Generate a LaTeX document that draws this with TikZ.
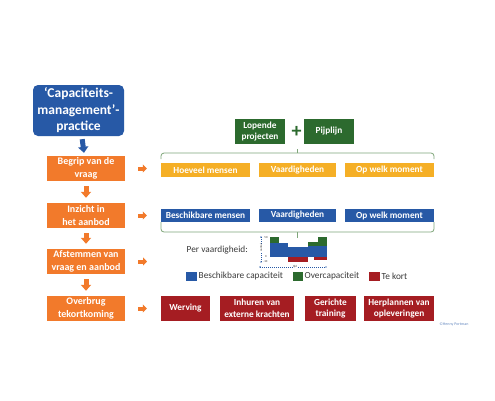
\documentclass[tikz,border=0pt]{standalone}
\usepackage{fontspec}
\setmainfont{Carlito}
\usetikzlibrary{arrows.meta}
\definecolor{titleblue}{HTML}{2759A6}
\definecolor{steporange}{HTML}{F27A2B}
\definecolor{askyellow}{HTML}{F5AF26}
\definecolor{darkgreen}{HTML}{2C6A2E}
\definecolor{bracegreen}{HTML}{7FA67A}
\definecolor{fixred}{HTML}{A51D22}
\definecolor{textgray}{HTML}{3A3A3A}
\begin{document}
\begin{tikzpicture}[x=1pt,y=-1pt,
	box/.style={inner sep=0pt, align=center, text=white, font=\bfseries\fontsize{9.3}{11.5}\selectfont},
	stepbox/.style={box, fill=steporange, minimum width=78, minimum height=25, font=\bfseries\fontsize{10}{12.5}\selectfont},
	askbox/.style={box, fill=askyellow, minimum height=14},
	havebox/.style={box, fill=titleblue, minimum height=13},
	pipebox/.style={box, fill=darkgreen, minimum width=50, minimum height=25},
	fixbox/.style={box, fill=fixred, minimum height=25},
	downarrow/.style={line width=5pt, -{Triangle[width=10pt,length=6pt]}},
	rightarrow/.style={steporange, line width=4pt, -{Triangle[width=8pt,length=4pt]}, shorten <=13pt},
	bracket/.style={bracegreen, line width=0.8pt, rounded corners=3pt},
	legendtext/.style={text=textgray, font=\fontsize{9.3}{11}\selectfont, anchor=west, inner sep=0pt},
	tiny/.style={text=textgray, font=\fontsize{3}{3}\selectfont, inner sep=0.3pt}]
	\useasboundingbox (0,0) rectangle (495,400);
	\fill[white] (0,0) rectangle (495,400);
	% Steps
	\node[box, fill=titleblue, rounded corners=5pt, minimum width=91, minimum height=51,
		font=\bfseries\fontsize{13.5}{16.5}\selectfont] (title) at (78.5,110.5) {‘Capaciteits-\\management’-\\practice};
	\node[stepbox] (vraag) at (86,168.5) {Begrip van de\\vraag};
	\node[stepbox] (aanbod) at (86,215.5) {Inzicht in\\het aanbod};
	\node[stepbox] (afstem) at (86,261.5) {Afstemmen van\\vraag en aanbod};
	\node[stepbox] (overbrug) at (86,308.5) {Overbrug\\tekortkoming};
	%Arrows down
	\draw[downarrow, titleblue, shorten <=3pt, shorten >=3pt] (title) -- (vraag);
	\draw[downarrow, steporange, shorten <=5pt, shorten >=5pt] (vraag) -- (aanbod);
	\draw[downarrow, steporange, shorten <=5pt, shorten >=5pt] (aanbod) -- (afstem);
	\draw[downarrow, steporange, shorten <=5pt, shorten >=5pt] (afstem) -- (overbrug);
	% Demand
	\node[pipebox] (lopend) at (260,131.5) {Lopende\\projecten};
	\node[pipebox] (pijplijn) at (329,131.5) {Pijplijn};
	\node[text=darkgreen, font=\bfseries\fontsize{20}{20}\selectfont, inner sep=0pt] (plus) at (296.5,132) {+};
	\draw[bracket] (161,159) -- (161,153) -- (434,153) -- (434,159);
	\draw[bracegreen, line width=0.8pt] (297,153) -- (297,148.5);
	\node[askbox, minimum width=89] (hoeveel) at (205.5,170) {Hoeveel mensen};
	\node[askbox, minimum width=77] (vaard) at (297.5,170) {Vaardigheden};
	\node[askbox, minimum width=89] (moment) at (389.5,170) {Op welk moment};
	% Supply
	\node[havebox, minimum width=89] (beschik) at (205.5,215.5) {Beschikbare mensen};
	\node[havebox, minimum width=77] (vaard2) at (297.5,215.5) {Vaardigheden};
	\node[havebox, minimum width=89] (moment2) at (389.5,215.5) {Op welk moment};
	\draw[bracket] (161,222) -- (161,232) -- (434,232) -- (434,222);
	\draw[bracegreen, line width=0.8pt] (297,232) -- (297,237.5);
	% Matching
	\node[text=textgray, font=\fontsize{9.3}{11}\selectfont, anchor=east, inner sep=0pt] (pervaard) at (248,250) {Per vaardigheid:};
	\coordinate (match) at (161,261.5);
	\fill[titleblue] (270,257) rectangle (279,243);
	\fill[darkgreen] (270,243) rectangle (279,236.5);
	\fill[titleblue] (279,257) rectangle (288,243);
	\fill[titleblue] (288,257) rectangle (308,247);
	\fill[fixred] (288,257) rectangle (308,262);
	\fill[titleblue] (308,257) rectangle (318,246);
	\fill[darkgreen] (308,246) rectangle (318,242);
	\fill[fixred] (314,257) rectangle (327,260);
	\fill[titleblue] (318,257) rectangle (327,246);
	\fill[darkgreen] (318,246) rectangle (327,236.5);
	\draw[titleblue, line width=0.3pt, dashed, dash pattern=on 1pt off 1pt, {Latex[length=1.5pt,width=1.5pt]}-{Latex[length=1.5pt,width=1.5pt]}] (261,236) -- (261,263);
	\draw[titleblue, line width=0.3pt, dashed, dash pattern=on 1pt off 1pt, {Latex[length=1.5pt,width=1.5pt]}-{Latex[length=1.5pt,width=1.5pt]}] (259,267) -- (327,267);
	\node[tiny, fill=white, rotate=90] (ylab) at (261,248) {aantal};
	\node[tiny, fill=white] (xlab) at (295,267) {tijd};
	\node[tiny] (y50) at (266,237.5) {50};
	\node[tiny] (y0) at (266,256.5) {0};
	\node[tiny] (ym10) at (265.5,261.5) {-10};
	%Legend
	\fill[titleblue] (186,272) rectangle (197,281);
	\node[legendtext] (lbeschik) at (198.5,276.5) {Beschikbare capaciteit};
	\fill[darkgreen] (293,272) rectangle (303,281);
	\node[legendtext] (lover) at (304.5,276.5) {Overcapaciteit};
	\fill[fixred] (369,272) rectangle (380,281);
	\node[legendtext] (lkort) at (381.5,276.5) {Te kort};
	% Bridging
	\node[fixbox, minimum width=49] (werving) at (185.5,308.5) {Werving};
	\node[fixbox, minimum width=74] (inhuren) at (257,308.5) {Inhuren van\\externe krachten};
	\node[fixbox, minimum width=51] (training) at (330.5,308.5) {Gerichte\\training};
	\node[fixbox, minimum width=70] (herplan) at (399,308.5) {Herplannen van\\opleveringen};
	%Arrows right
	\draw[rightarrow, shorten >=14pt] (vraag) -- (hoeveel.west |- vraag);
	\draw[rightarrow, shorten >=14pt] (aanbod) -- (beschik.west |- aanbod);
	\draw[rightarrow, shorten >=14pt] (afstem) -- (match);
	\draw[rightarrow, shorten >=14pt] (overbrug) -- (werving.west |- overbrug);
	%Labels
	\node[text=titleblue!70, font=\fontsize{4}{4}\selectfont, inner sep=0pt] (copy) at (454,324) {©Henny Portman};
\end{tikzpicture}
\end{document}
